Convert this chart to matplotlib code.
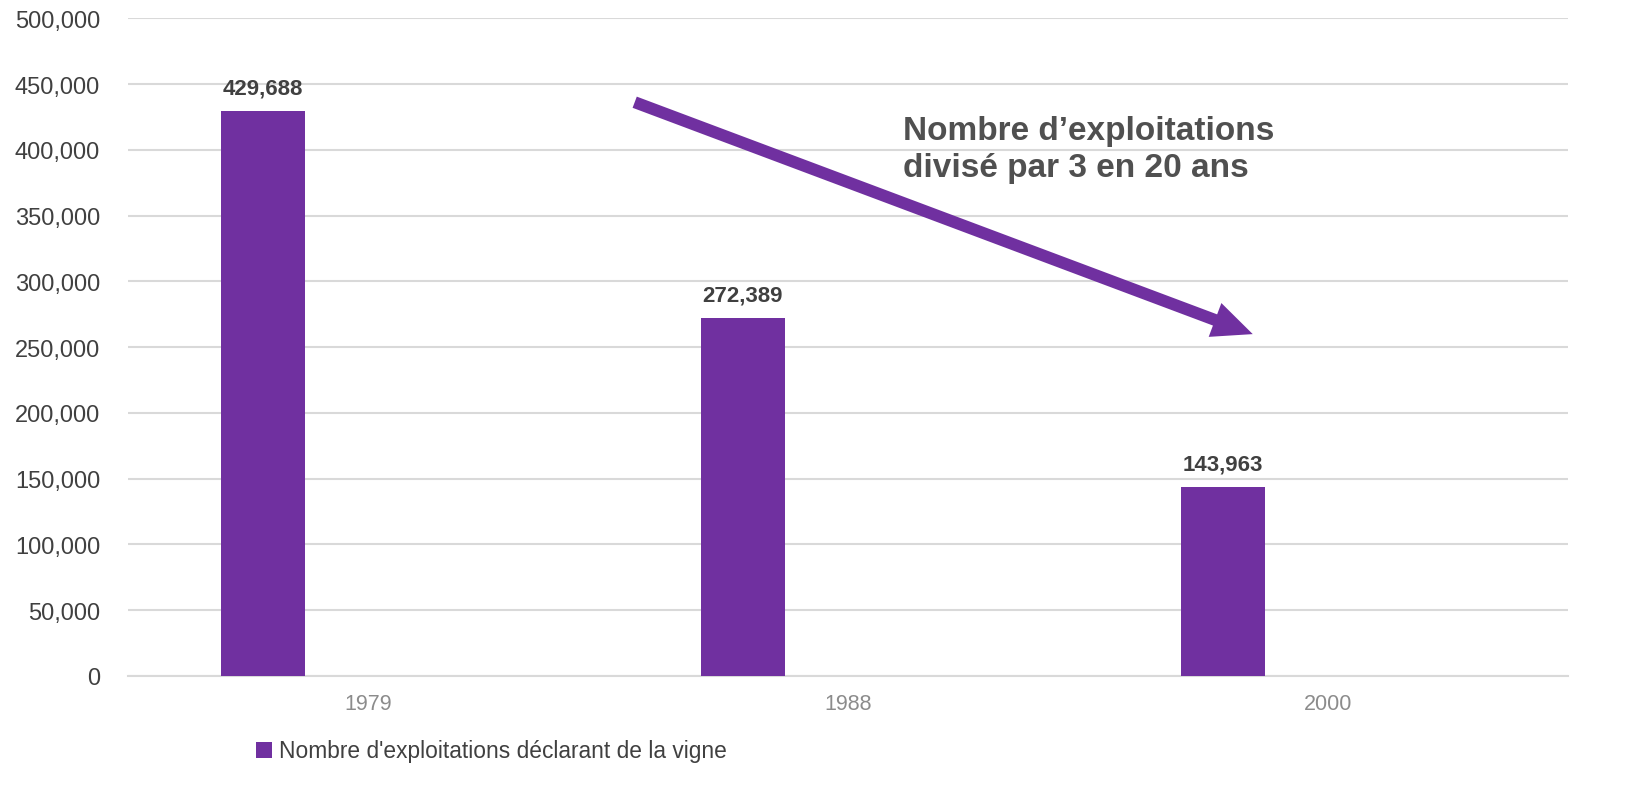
import matplotlib
matplotlib.use("Agg")
import matplotlib.pyplot as plt
import numpy as np

plt.rcParams['font.family'] = ['Liberation Sans', 'DejaVu Sans']

# Data
years = ["1979", "1988", "2000"]
exploitations = [429688, 272389, 143963]
series_label = "Nombre d'exploitations déclarant de la vigne"
annotation_text = "Nombre d\u2019exploitations\ndivisé par 3 en 20 ans"

bar_color = "#7030A0"
grid_color = "#d9d9d9"

fig = plt.figure(figsize=(16.49, 8.04), dpi=100)
ax = fig.add_axes([0.0776, 0.158, 0.873, 0.818])

x = np.arange(len(years))
bar_width = 0.175
offset = -0.219
bars = ax.bar(x + offset, exploitations, width=bar_width, color=bar_color,
              label=series_label, zorder=3)

for rect, v in zip(bars, exploitations):
    ax.annotate(f"{v:,}", (rect.get_x() + rect.get_width() / 2, v),
                xytext=(0, 9), textcoords="offset points",
                ha="center", va="bottom", fontsize=16, fontweight="bold",
                color="#404040")

ax.set_xlim(-0.5, len(years) - 0.5)
ax.set_ylim(0, 500000)
ax.set_yticks(np.arange(0, 500001, 50000))
ax.yaxis.set_major_formatter(matplotlib.ticker.FuncFormatter(lambda v, p: f"{int(v):,}"))
ax.set_xticks(x)
ax.set_xticklabels(years)
ax.tick_params(axis="y", length=0, labelsize=17, labelcolor="#404040", pad=20)
ax.tick_params(axis="x", length=0, labelsize=15.5, labelcolor="#8c8c8c", pad=12)

ax.grid(axis="y", color=grid_color, linewidth=1.5, zorder=0)
for side in ["top", "right", "left"]:
    ax.spines[side].set_visible(False)
ax.spines["bottom"].set_color(grid_color)
ax.spines["bottom"].set_linewidth(1.5)

# trend arrow
ax.annotate("", xy=(1.844, 259900), xytext=(0.556, 436200),
            arrowprops=dict(arrowstyle="simple,head_length=1.45,head_width=1.3,tail_width=0.43",
                            mutation_scale=20, facecolor=bar_color, edgecolor="none",
                            shrinkA=0, shrinkB=0),
            zorder=4)
ax.text(1.115, 426300, annotation_text, fontsize=24, fontweight="bold",
        color="#505050", ha="left", va="top", linespacing=1.25)

fig.legend(loc="center left", bbox_to_anchor=(0.143, 1 - 752 / 804),
           frameon=False, fontsize=16.4, handlelength=0.7, handleheight=0.7,
           handletextpad=0.3, labelcolor="#404040")

fig.savefig("out.png", dpi=100)
